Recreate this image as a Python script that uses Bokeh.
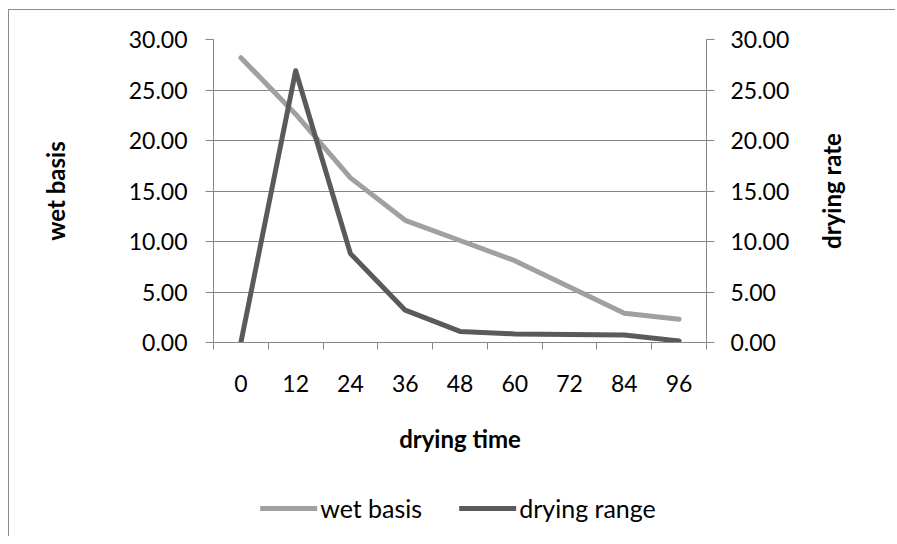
import math
from bokeh.plotting import figure
from bokeh.layouts import column, row
from bokeh.models import (Range1d, LinearAxis, FixedTicker, Legend, LegendItem,
                          NumeralTickFormatter, Title)
from bokeh.embed import file_html
from bokeh.resources import INLINE

# ---- data ----
drying_time = ["0", "12", "24", "36", "48", "60", "72", "84", "96"]
wet_basis = [28.2, 22.6, 16.3, 12.1, 10.1, 8.1, 5.5, 2.9, 2.3]
drying_range = [0.0, 26.9, 8.8, 3.2, 1.1, 0.85, 0.8, 0.75, 0.15]
y_ticks = [0, 5, 10, 15, 20, 25, 30]
series_names = ["wet basis", "drying range"]
series_colors = ["#a0a0a0", "#5a5a5a"]

xs = [i + 0.5 for i in range(len(drying_time))]

AX = "#868686"
FONT = "Lato"
TICK_FS = "23px"
TITLE_FS = "24px"
W = 886
WP = 800
H = 470

p = figure(width=WP, height=H, output_backend="svg", toolbar_location=None,
           x_range=Range1d(0, len(drying_time)), y_range=Range1d(0, 30),
           min_border_left=204, min_border_right=WP - 204 - 493,
           min_border_top=29, min_border_bottom=138)
p.extra_y_ranges = {"right": Range1d(0, 30)}
p.outline_line_color = None
p.background_fill_color = "white"
p.border_fill_color = "white"

r1 = p.line(xs, wet_basis, line_color=series_colors[0], line_width=5,
            line_cap="round", line_join="round")
r2 = p.line(xs, drying_range, line_color=series_colors[1], line_width=5,
            line_cap="round", line_join="round", y_range_name="right")

# x axis
xa = p.xaxis[0]
xa.ticker = FixedTicker(ticks=xs, minor_ticks=list(range(len(drying_time) + 1)))
xa.major_label_overrides = {x: lab for x, lab in zip(xs, drying_time)}
xa.major_tick_line_color = None
xa.minor_tick_line_color = AX
xa.minor_tick_out = 7
xa.minor_tick_in = 0
xa.axis_line_color = AX
xa.major_label_standoff = 25
xa.major_label_text_font = FONT
xa.major_label_text_font_size = TICK_FS
xa.major_label_text_color = "black"

def style_title(ax, label, label_standoff):
    ax.axis_label = label
    ax.axis_label_text_font = FONT
    ax.axis_label_text_font_style = "bold"
    ax.axis_label_text_font_size = TITLE_FS
    ax.axis_label_text_color = "black"
    ax.axis_label_standoff = label_standoff

style_title(xa, "drying time", 29)

def style_y(ax, standoff):
    ax.ticker = FixedTicker(ticks=y_ticks)
    ax.formatter = NumeralTickFormatter(format="0.00")
    ax.major_tick_line_color = AX
    ax.major_tick_out = 8
    ax.major_tick_in = 0
    ax.minor_tick_line_color = None
    ax.axis_line_color = AX
    ax.major_label_standoff = standoff
    ax.major_label_text_font = FONT
    ax.major_label_text_font_size = TICK_FS
    ax.major_label_text_color = "black"

style_y(p.yaxis[0], 18)
style_title(p.yaxis[0], "wet basis", 56)

ra = LinearAxis(y_range_name="right")
style_y(ra, 16)
p.add_layout(ra, "right")

p.ygrid.ticker = FixedTicker(ticks=y_ticks)
p.ygrid.grid_line_color = AX
p.xgrid.grid_line_color = None

# ---- secondary-axis title strip (reads bottom-to-top, like the left title) ----
p3 = figure(width=W - WP, height=H, output_backend="svg", toolbar_location=None,
            x_axis_type=None, y_axis_type=None,
            min_border_left=34, min_border_right=0,
            min_border_top=29, min_border_bottom=138)
p3.outline_line_color = None
p3.grid.grid_line_color = None
p3.background_fill_color = "white"
p3.border_fill_color = "white"
p3.add_layout(Title(text="drying rate", align="center", text_font=FONT,
                    text_font_style="bold", text_font_size=TITLE_FS,
                    text_color="black"), "left")

# ---- legend strip (same line styles as the series) ----
p2 = figure(width=W, height=56, output_backend="svg", toolbar_location=None,
            x_axis_type=None, y_axis_type=None, min_border=0,
            min_border_left=12)
p2.outline_line_color = None
p2.grid.grid_line_color = None
p2.background_fill_color = "white"
p2.border_fill_color = "white"
items = []
for name, col in zip(series_names, series_colors):
    rr = p2.line([math.nan], [math.nan], line_color=col, line_width=5,
                 line_cap="round")
    items.append(LegendItem(label=name, renderers=[rr]))

legend = Legend(items=items, location="center", orientation="horizontal",
                glyph_width=57, glyph_height=20, label_standoff=3, spacing=37,
                padding=0, margin=0, border_line_color=None,
                background_fill_alpha=0,
                label_text_font=FONT, label_text_font_size="25px",
                label_text_color="black")
p2.add_layout(legend)

layout = column(row(p, p3, spacing=0), p2, spacing=0)
layout.styles = {"margin-left": "8px", "margin-top": "9px",
                 "border-left": "1px solid #8c8c8c", "border-top": "1px solid #8c8c8c"}

open("out.html", "w").write(file_html(layout, INLINE))
